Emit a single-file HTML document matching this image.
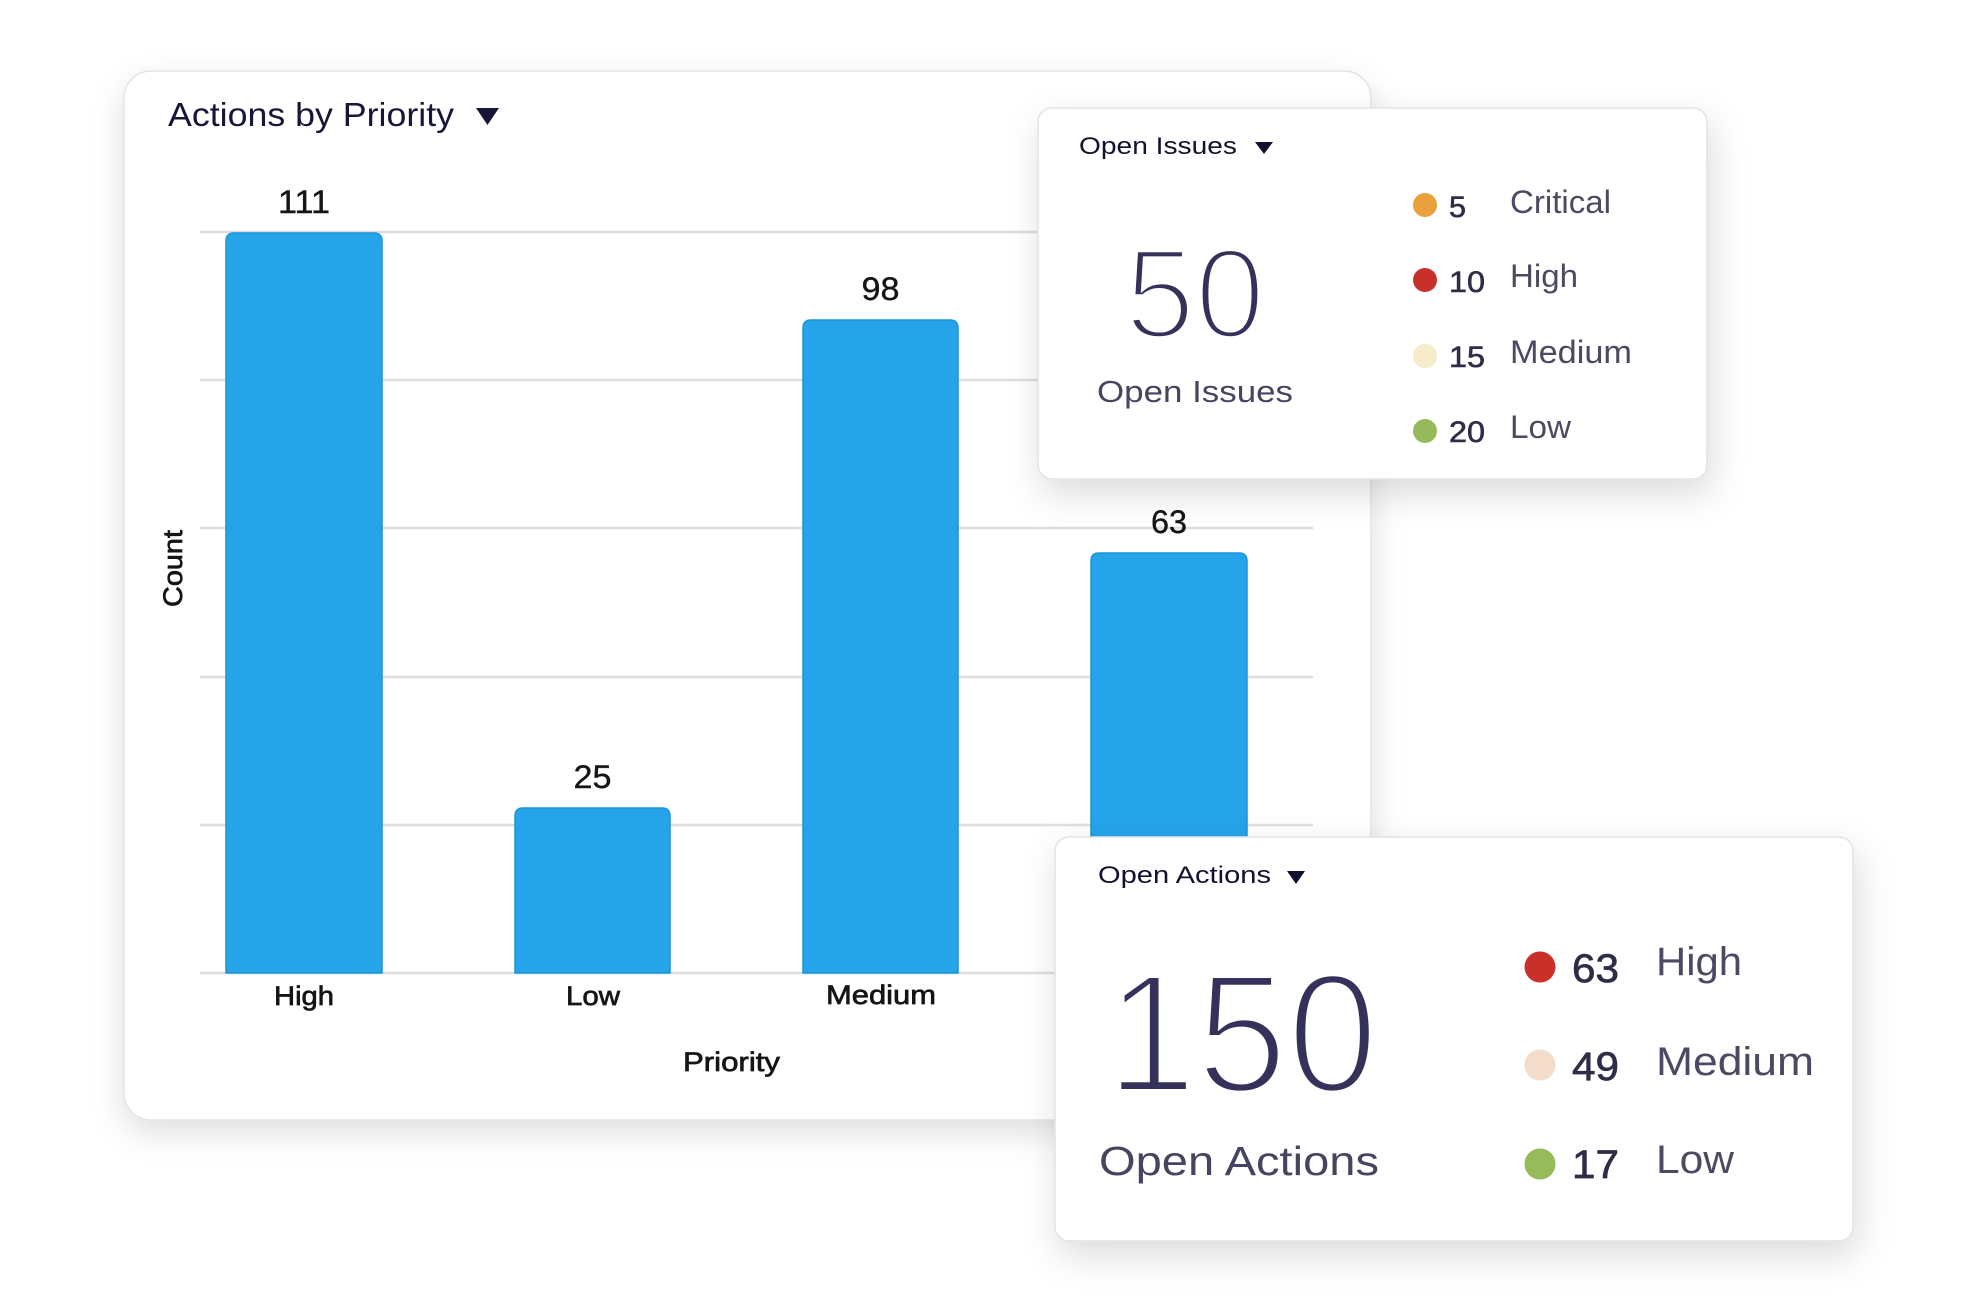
<!DOCTYPE html>
<html>
<head>
<meta charset="utf-8">
<style>
  html,body{margin:0;padding:0;background:#fff;}
  svg{display:block;}
  text{font-family:"Liberation Sans", Arial, sans-serif;}
</style>
</head>
<body>
<svg width="1975" height="1313" viewBox="0 0 1975 1313" xmlns="http://www.w3.org/2000/svg">
  <defs>
    <filter id="sh" x="-10%" y="-10%" width="125%" height="130%">
      <feDropShadow dx="0" dy="12" stdDeviation="16" flood-color="#000" flood-opacity="0.13"/>
    </filter>
    <filter id="sh2" x="-15%" y="-15%" width="135%" height="145%">
      <feDropShadow dx="4" dy="14" stdDeviation="18" flood-color="#000" flood-opacity="0.14"/>
    </filter>
  </defs>
  <rect x="0" y="0" width="1975" height="1313" fill="#ffffff"/>

  <!-- Main card -->
  <rect x="124" y="71" width="1247" height="1049" rx="27" ry="27" fill="#fff" stroke="#e4e4e4" stroke-width="1.5" filter="url(#sh)"/>
  <text x="168" y="126" font-size="33" fill="#161638" textLength="286" lengthAdjust="spacingAndGlyphs">Actions by Priority</text>
  <polygon points="476,108 499,108 487.5,125" fill="#161638"/>

  <!-- gridlines -->
  <g stroke="#dedede" stroke-width="2.5">
    <line x1="200" y1="232" x2="1313" y2="232"/>
    <line x1="200" y1="380" x2="1313" y2="380"/>
    <line x1="200" y1="528" x2="1313" y2="528"/>
    <line x1="200" y1="677" x2="1313" y2="677"/>
    <line x1="200" y1="825" x2="1313" y2="825"/>
    <line x1="200" y1="973" x2="1313" y2="973"/>
  </g>

  <!-- bars -->
  <g fill="#25a4ea" stroke="#1d93d8" stroke-width="1.5">
    <path d="M226,973 L226,241 Q226,233 234,233 L374,233 Q382,233 382,241 L382,973 Z"/>
    <path d="M515,973 L515,816 Q515,808 523,808 L662,808 Q670,808 670,816 L670,973 Z"/>
    <path d="M803,973 L803,328 Q803,320 811,320 L950,320 Q958,320 958,328 L958,973 Z"/>
    <path d="M1091,973 L1091,561 Q1091,553 1099,553 L1239,553 Q1247,553 1247,561 L1247,973 Z"/>
  </g>

  <!-- value labels -->
  <g font-size="32" fill="#151515" text-anchor="middle" stroke="#151515" stroke-width="0.4">
    <text x="304" y="213" textLength="52" lengthAdjust="spacingAndGlyphs">111</text>
    <text x="592.5" y="788" textLength="38" lengthAdjust="spacingAndGlyphs">25</text>
    <text x="880.5" y="300" textLength="38" lengthAdjust="spacingAndGlyphs">98</text>
    <text x="1169" y="533" textLength="36" lengthAdjust="spacingAndGlyphs">63</text>
  </g>

  <!-- x labels -->
  <g font-size="27" fill="#151515" text-anchor="middle" stroke="#151515" stroke-width="0.7">
    <text x="304" y="1005" textLength="60" lengthAdjust="spacingAndGlyphs">High</text>
    <text x="593" y="1005" textLength="54" lengthAdjust="spacingAndGlyphs">Low</text>
    <text x="881" y="1004" textLength="110" lengthAdjust="spacingAndGlyphs">Medium</text>
    <text x="731.5" y="1071" textLength="97" lengthAdjust="spacingAndGlyphs">Priority</text>
    <text transform="translate(182,568.5) rotate(-90)" textLength="77" lengthAdjust="spacingAndGlyphs">Count</text>
  </g>

  <!-- Open Issues card -->
  <rect x="1038" y="108" width="669" height="371" rx="14" ry="14" fill="#fff" stroke="#e2e2e2" stroke-width="1.5" filter="url(#sh2)"/>
  <text x="1079" y="154" font-size="24" fill="#111130" textLength="158" lengthAdjust="spacingAndGlyphs">Open Issues</text>
  <polygon points="1255,142 1273,142 1264,154" fill="#111130"/>
  <text x="1195" y="338" font-size="128" fill="#34325a" stroke="#fff" stroke-width="5.5" text-anchor="middle" textLength="140" lengthAdjust="spacingAndGlyphs">50</text>
  <text x="1097" y="402" font-size="31" fill="#45455f" textLength="196" lengthAdjust="spacingAndGlyphs">Open Issues</text>

  <circle cx="1425" cy="205" r="12" fill="#e9a23b"/>
  <circle cx="1425" cy="280" r="12" fill="#c8302a"/>
  <circle cx="1425" cy="356" r="12" fill="#f6ecca"/>
  <circle cx="1425" cy="431" r="12" fill="#95ba5b"/>
  <g font-size="30" fill="#2d2d48" stroke="#2d2d48" stroke-width="0.6">
    <text x="1449" y="217" textLength="17" lengthAdjust="spacingAndGlyphs">5</text>
    <text x="1449" y="292" textLength="36" lengthAdjust="spacingAndGlyphs">10</text>
    <text x="1449" y="367" textLength="36" lengthAdjust="spacingAndGlyphs">15</text>
    <text x="1449" y="442" textLength="36" lengthAdjust="spacingAndGlyphs">20</text>
  </g>
  <g font-size="32" fill="#4a4a62">
    <text x="1510" y="213" textLength="101" lengthAdjust="spacingAndGlyphs">Critical</text>
    <text x="1510" y="287" textLength="68" lengthAdjust="spacingAndGlyphs">High</text>
    <text x="1510" y="363" textLength="122" lengthAdjust="spacingAndGlyphs">Medium</text>
    <text x="1510" y="438" textLength="61" lengthAdjust="spacingAndGlyphs">Low</text>
  </g>

  <!-- Open Actions card -->
  <rect x="1055" y="837" width="798" height="404" rx="14" ry="14" fill="#fff" stroke="#e2e2e2" stroke-width="1.5" filter="url(#sh2)"/>
  <text x="1098" y="883" font-size="24" fill="#111130" textLength="173" lengthAdjust="spacingAndGlyphs">Open Actions</text>
  <polygon points="1287,871 1305,871 1296,884" fill="#111130"/>
  <text x="1242" y="1092" font-size="170" fill="#34325a" stroke="#fff" stroke-width="6" text-anchor="middle" textLength="272" lengthAdjust="spacingAndGlyphs">150</text>
  <text x="1099" y="1175" font-size="41" fill="#45455f" textLength="280" lengthAdjust="spacingAndGlyphs">Open Actions</text>

  <circle cx="1540" cy="967" r="15.5" fill="#c9302a"/>
  <circle cx="1540" cy="1065" r="15.5" fill="#f4dccb"/>
  <circle cx="1540" cy="1164" r="15.5" fill="#95bb5b"/>
  <g font-size="40" fill="#2d2d48" stroke="#2d2d48" stroke-width="0.7">
    <text x="1572" y="982" textLength="47" lengthAdjust="spacingAndGlyphs">63</text>
    <text x="1572" y="1080" textLength="47" lengthAdjust="spacingAndGlyphs">49</text>
    <text x="1572" y="1178" textLength="47" lengthAdjust="spacingAndGlyphs">17</text>
  </g>
  <g font-size="40" fill="#4a4a62">
    <text x="1656" y="975" textLength="86" lengthAdjust="spacingAndGlyphs">High</text>
    <text x="1656" y="1075" textLength="158" lengthAdjust="spacingAndGlyphs">Medium</text>
    <text x="1656" y="1173" textLength="78" lengthAdjust="spacingAndGlyphs">Low</text>
  </g>
</svg>
</body>
</html>
